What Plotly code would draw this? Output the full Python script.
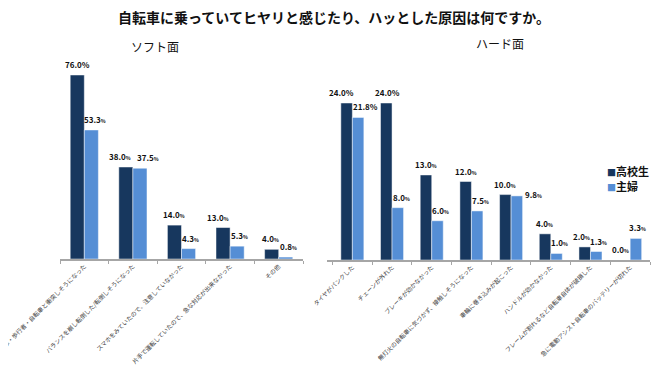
import plotly.graph_objects as go

soft_cats = ["車・歩行者・自転車と衝突しそうになった",
             "バランスを崩し転倒した/転倒しそうになった",
             "スマホをみていたので、注意していなかった",
             "片手で運転していたので、急な対応が出来なかった",
             "その他"]
soft_hs = [76.0, 38.0, 14.0, 13.0, 4.0]
soft_hw = [53.3, 37.5, 4.3, 5.3, 0.8]

hard_cats = ["タイヤがパンクした",
             "チェーンが外れた",
             "ブレーキが効かなかった",
             "無灯火の自転車に気づかず、接触しそうになった",
             "車輪に巻き込みが起こった",
             "ハンドルが効かなかった",
             "フレームが割れるなど自転車自体が破損した",
             "急に電動アシスト自転車のバッテリーが切れた"]
hard_hs = [24.0, 24.0, 13.0, 12.0, 10.0, 4.0, 2.0, 0.0]
hard_hw = [21.8, 8.0, 6.0, 7.5, 9.8, 1.0, 1.3, 3.3]

series_names = ["高校生", "主婦"]
colors = ["#17375E", "#558ED5"]
FONT = "Noto Sans CJK JP"

# label styling (horizontal nudges in px, which labels show a full-size %)
soft_nudge = [[0, -6, 0, -5, -1], [4, 8, 2, 2, 3]]
hard_nudge = [[-5, 1, 0, 0, 0, 0, -3, -4], [7, 4, 3, 3, 17, 3, 2, 1]]
soft_bigpct = [[True, False, False, False, False], [False] * 5]
hard_bigpct = [[True, True] + [False] * 6, [True] + [False] * 7]

# page body has an 8px margin; work in reference pixel coords and convert
OFF = 8
W, H = 668 - OFF, 384 - OFF


def px(x):
    return (x - OFF) / W


def py(y):
    return 1 - (y - OFF) / H


BARGAP = 0.42
fig = go.Figure()
annotations = []
panels = [("x", "y", soft_cats, [soft_hs, soft_hw], soft_nudge, soft_bigpct, 60, 303),
          ("x2", "y2", hard_cats, [hard_hs, hard_hw], hard_nudge, hard_bigpct, 327, 650)]
for xa, ya, cats, vals_list, nudges, bigs, x0, x1 in panels:
    catw = (x1 - x0) / len(cats)
    half = (1 - BARGAP) * catw / 4
    for k, vals in enumerate(vals_list):
        fig.add_trace(go.Bar(
            x=cats, y=vals, name=series_names[k], xaxis=xa, yaxis=ya,
            marker=dict(color=colors[k], line=dict(color="rgba(255,255,255,0.6)", width=0.8)),
            showlegend=False,
        ))
        for i, (c, v) in enumerate(zip(cats, vals)):
            pct = "%" if bigs[k][i] else "<span style='font-size:5px'>%</span>"
            annotations.append(dict(
                text=f"<b>{v:.1f}{pct}</b>", x=c, y=v, xref=xa, yref=ya,
                xanchor="center", yanchor="bottom", showarrow=False,
                xshift=(-half if k == 0 else half) + nudges[k][i],
                yshift=3 if not (k == 1 and nudges[k][i] > 10) else -6,
                font=dict(family=FONT, size=8, color="#111111")))

axis_common = dict(type="category", showgrid=False, zeroline=False, automargin=False,
                   showline=True, linecolor="#A6A6A6", linewidth=1.5,
                   ticks="outside", tickson="boundaries", ticklen=3, tickcolor="#A6A6A6",
                   tickangle=-45, tickfont=dict(family=FONT, size=6, color="#404040"))
yaxis_common = dict(showgrid=False, zeroline=False, showline=False, automargin=False,
                    showticklabels=False, ticks="")

texts = [
    dict(text="<b>自転車に乗っていてヒヤリと感じたり、ハッとした原因は何ですか。</b>",
         x=px(334), y=py(17.5), xanchor="center", yanchor="middle", borderpad=0,
         font=dict(family=FONT, size=14, color="#111111")),
    dict(text="ソフト面", x=px(155), y=py(47), xanchor="center", yanchor="middle",
         font=dict(family=FONT, size=12, color="#111111")),
    dict(text="ハード面", x=px(500), y=py(44), xanchor="center", yanchor="middle",
         font=dict(family=FONT, size=12, color="#111111")),
]
# legend drawn as text with coloured squares
for k, (name, yy) in enumerate(zip(series_names, [171, 186])):
    texts.append(dict(
        text=f"<span style='color:{colors[k]};font-size:9px'>■</span><b>{name}</b>",
        x=px(605), y=py(yy), xanchor="left", yanchor="middle",
        font=dict(family=FONT, size=11, color="#111111")))
for a in texts:
    a.update(xref="paper", yref="paper", showarrow=False)
annotations += texts

fig.update_layout(
    width=W, height=H,
    margin=dict(l=0, r=0, t=0, b=0, autoexpand=False),
    paper_bgcolor="white", plot_bgcolor="white",
    barmode="group",
    bargap=BARGAP, bargroupgap=0.0,
    font=dict(family=FONT),
    showlegend=False,
    xaxis=dict(domain=[px(60), px(303)], anchor="y", **axis_common),
    yaxis=dict(domain=[py(259), py(60)], range=[0, 76 * 199 / 184], **yaxis_common),
    xaxis2=dict(domain=[px(327), px(650)], anchor="y2", **axis_common),
    yaxis2=dict(domain=[py(260), py(60)], range=[0, 24 * 200 / 157], **yaxis_common),
    annotations=annotations,
)

fig.write_html("out.html")
